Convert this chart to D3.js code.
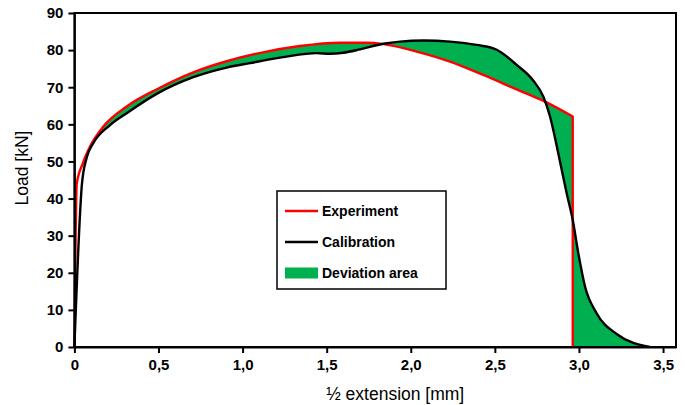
<!DOCTYPE html>
<html><head><meta charset="utf-8">
<script src="https://cdn.jsdelivr.net/npm/d3@7"></script>
<style>
html,body{margin:0;padding:0;background:#fff;}
svg text{font-family:"Liberation Sans",Arial,sans-serif;}
</style></head>
<body><svg id="c" width="685" height="405"></svg>
<script>
// ---- data ----
const experimentX = [0,0.014,0.05,0.093,0.172,0.311,0.497,0.707,0.905,1.1,1.341,1.579,1.738,1.837,2.035,2.233,2.431,2.63,2.798,2.963,2.963];
const experimentY = [0,44,49.5,54.0,59.4,64.8,69.6,74.0,77.0,79.2,81.1,82.0,82.0,81.6,79.6,76.9,73.3,69.4,66.1,62.1,0];
const calibrationX = [0,0.045,0.073,0.112,0.212,0.311,0.497,0.707,0.905,1.044,1.242,1.44,1.52,1.599,1.698,1.837,1.936,2.074,2.233,2.392,2.511,2.63,2.728,2.788,2.828,2.877,2.927,2.963,2.996,3.036,3.105,3.224,3.422];
const calibrationY = [0,44,51,54.9,59.8,63.0,68.4,72.7,75.3,76.5,78.1,79.2,79.0,79.3,80.2,81.7,82.3,82.6,82.3,81.4,80.1,76.0,71.8,67.5,62.1,52.2,41.4,34.2,25.3,16.3,9.1,3.5,0];
const xTicks = [0,0.5,1.0,1.5,2.0,2.5,3.0,3.5];
const yTicks = [0,10,20,30,40,50,60,70,80,90];
const xDomain = [0,3.577];
const yDomain = [0,90];
const legendLabels = ["Experiment","Calibration","Deviation area"];
const xTitle = "½ extension [mm]";
const yTitle = "Load [kN]";

// ---- layout ----
const svg = d3.select("#c");
const L = 74.4, R = 676, T = 13, B = 347;
const x = d3.scaleLinear().domain(xDomain).range([L, R]);
const y = d3.scaleLinear().domain(yDomain).range([B, T]);
const RED = "#ff0000", GREEN = "#00b050";

const exp = experimentX.map((v,i)=>[v, experimentY[i]]);
const cal = calibrationX.map((v,i)=>[v, calibrationY[i]]);
const line = d3.line().x(d=>x(d[0])).y(d=>y(d[1])).curve(d3.curveMonotoneX);

// experiment: smooth part + vertical drop
const expSmooth = exp.slice(0, exp.length-1);
const expDrop = exp[exp.length-1];
const expPath = line(expSmooth) + "L" + x(expDrop[0]) + "," + y(expDrop[1]);

// deviation area: between the curves, from where they first meet
const expSub = expSmooth.filter(d=>d[0] >= 0.09);
const calSubRev = cal.filter(d=>d[0] >= 0.11).reverse();
const devPath = line(expSub) + "L" + x(expDrop[0]) + "," + y(expDrop[1]) +
  "L" + line(calSubRev).slice(1) + "Z";

svg.append("path").attr("d", devPath).attr("fill", GREEN).attr("stroke","none");
svg.append("path").attr("d", expPath).attr("fill","none").attr("stroke",RED).attr("stroke-width",2.4).attr("stroke-linejoin","round");
svg.append("path").attr("d", line(cal)).attr("fill","none").attr("stroke","#000").attr("stroke-width",2.4).attr("stroke-linejoin","round");

// frame
svg.append("rect").attr("x",L).attr("y",T).attr("width",R-L).attr("height",B-T)
  .attr("fill","none").attr("stroke","#000").attr("stroke-width",2);

// axes
const fmt = d => d === 0 ? "0" : d3.format(".1f")(d).replace(".", ",");
const xAxis = svg.append("g").attr("transform",`translate(0,${B})`)
  .call(d3.axisBottom(x).tickValues(xTicks).tickFormat(fmt).tickSize(6).tickSizeOuter(0).tickPadding(6));
const yAxis = svg.append("g").attr("transform",`translate(${L},0)`)
  .call(d3.axisLeft(y).tickValues(yTicks).tickFormat(d3.format("d")).tickSize(6).tickSizeOuter(0).tickPadding(5));
[xAxis,yAxis].forEach(g=>{
  g.select(".domain").attr("stroke","#000").attr("stroke-width",2);
  g.selectAll(".tick line").attr("stroke","#000").attr("stroke-width",2);
  g.selectAll(".tick text").attr("fill","#000").style("font-size","15px").style("font-weight","bold")
   .style("font-family","'Liberation Sans',Arial,sans-serif");
});

// titles
svg.append("text").attr("x",(L+R)/2 + 20).attr("y",400).attr("text-anchor","middle")
  .style("font-size","17.5px").text(xTitle);
svg.append("text").attr("transform","translate(28,168) rotate(-90)").attr("text-anchor","middle")
  .style("font-size","17.5px").text(yTitle);

// legend
const lg = svg.append("g").attr("transform","translate(277,191)");
lg.append("rect").attr("width",169).attr("height",98).attr("fill","#fff").attr("stroke","#000").attr("stroke-width",1.5);
const rows = [20, 51, 82];
lg.append("line").attr("x1",8).attr("x2",41).attr("y1",rows[0]).attr("y2",rows[0]).attr("stroke",RED).attr("stroke-width",2.4);
lg.append("line").attr("x1",8).attr("x2",41).attr("y1",rows[1]).attr("y2",rows[1]).attr("stroke","#000").attr("stroke-width",2.4);
lg.append("rect").attr("x",8).attr("y",rows[2]-5.5).attr("width",33).attr("height",11).attr("fill",GREEN);
legendLabels.forEach((t,i)=>{
  lg.append("text").attr("x",45).attr("y",rows[i]+5).style("font-size","14px").style("font-weight","bold").text(t);
});
</script></body></html>
